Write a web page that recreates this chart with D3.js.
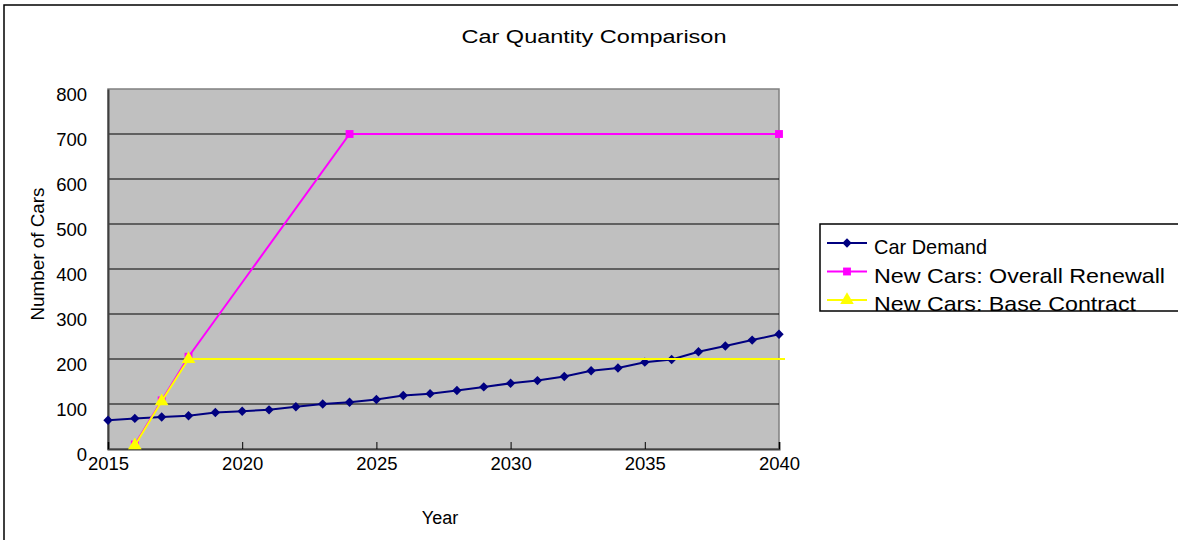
<!DOCTYPE html>
<html>
<head>
<meta charset="utf-8">
<script src="https://cdn.jsdelivr.net/npm/d3@7"></script>
<style>
  html, body { margin: 0; padding: 0; background: #fff; overflow: hidden; }
  svg { display: block; }
  text { font-family: "Liberation Sans", Arial, sans-serif; fill: #000; }
</style>
</head>
<body>
<svg id="chart" width="1178" height="540"></svg>
<script>
// ---- data ----
const demandYears = d3.range(2015, 2041);
const demandValues = [64, 68, 71, 74, 81, 84, 87, 94, 100, 104, 110, 119, 123, 130, 138, 146, 152, 161, 174, 180, 193, 199, 216, 229, 242, 255];
const renewalYears = [2016, 2017, 2018, 2024, 2040];
const renewalValues = [10, 108, 205, 700, 700];
const baseYears = [2016, 2017, 2018];
const baseValues = [8, 106, 200];
const yTicks = [0, 100, 200, 300, 400, 500, 600, 700, 800];
const xTicks = [2015, 2020, 2025, 2030, 2035, 2040];
const seriesNames = ["Car Demand", "New Cars: Overall Renewall", "New Cars: Base Contract"];
const titleText = "Car Quantity Comparison";
const xLabel = "Year";
const yLabel = "Number of Cars";

const svg = d3.select("#chart");
const W = 1178, H = 540;
const plot = { left: 108, right: 779, top: 89, bottom: 449 };

const x = d3.scaleLinear().domain([2015, 2040]).range([plot.left, plot.right]);
const y = d3.scaleLinear().domain([0, 800]).range([plot.bottom, plot.top]);

// outer chart border (left and top visible)
svg.append("rect").attr("x", 4).attr("y", 5).attr("width", W + 20).attr("height", H + 20)
  .attr("fill", "#fff").attr("stroke", "#000").attr("stroke-width", 1.5);

// title
svg.append("text").attr("x", 594).attr("y", 43).attr("text-anchor", "middle")
  .attr("font-size", 18).attr("textLength", 265).attr("lengthAdjust", "spacingAndGlyphs")
  .text(titleText);

// plot background
svg.append("rect").attr("x", plot.left).attr("y", plot.top)
  .attr("width", plot.right - plot.left).attr("height", plot.bottom - plot.top)
  .attr("fill", "#c0c0c0").attr("stroke", "#808080").attr("stroke-width", 1.5);

// gridlines
svg.append("g").selectAll("line").data(yTicks.filter(v => v > 0 && v < 800)).join("line")
  .attr("x1", plot.left).attr("x2", plot.right)
  .attr("y1", d => y(d)).attr("y2", d => y(d))
  .attr("stroke", "#000").attr("stroke-width", 1);

// y axis
const yAxis = d3.axisLeft(y).tickValues(yTicks).tickSize(0).tickPadding(21);
const gy = svg.append("g").attr("transform", `translate(${plot.left},0)`).call(yAxis);
gy.select(".domain").attr("stroke", "#404040").attr("stroke-width", 2);
gy.selectAll("text").attr("font-size", 18.5).attr("dy", "0.62em")
  .style("font-family", "'Liberation Sans', Arial, sans-serif").attr("fill", "#000");

// x axis (ticks pointing inward)
const xAxis = d3.axisBottom(x).tickValues(xTicks).tickFormat(d3.format("d")).tickSize(-7).tickPadding(8);
const gx = svg.append("g").attr("transform", `translate(0,${plot.bottom})`).call(xAxis);
gx.select(".domain").attr("stroke", "#404040").attr("stroke-width", 2);
gx.selectAll(".tick line").attr("stroke", "#000");
gx.selectAll("text").attr("font-size", 18.5)
  .style("font-family", "'Liberation Sans', Arial, sans-serif").attr("fill", "#000");

// axis labels
svg.append("text").attr("x", 440).attr("y", 524).attr("text-anchor", "middle")
  .attr("font-size", 18).text(xLabel);
svg.append("text").attr("transform", "translate(44,254) rotate(-90)").attr("text-anchor", "middle")
  .attr("font-size", 18).attr("textLength", 133).attr("lengthAdjust", "spacingAndGlyphs").text(yLabel);

// series
const demand = demandYears.map((yr, i) => ({ x: yr, v: demandValues[i] }));
const renewal = renewalYears.map((yr, i) => ({ x: yr, v: renewalValues[i] }));
const base = baseYears.map((yr, i) => ({ x: yr, v: baseValues[i] }));
const line = d3.line().x(d => x(d.x)).y(d => y(d.v));

const colors = ["#000080", "#ff00ff", "#ffff00"];
const symbols = [d3.symbolSquare, d3.symbolSquare, d3.symbolTriangle];
const symSizes = [44, 62, 80];
const symRot = [45, 0, 0];

function drawMarkers(data, idx) {
  svg.append("g").selectAll("path").data(data).join("path")
    .attr("transform", d => `translate(${x(d.x)},${y(d.v)}) rotate(${symRot[idx]})`)
    .attr("d", d3.symbol().type(symbols[idx]).size(symSizes[idx]))
    .attr("fill", colors[idx]);
}

// demand
svg.append("path").datum(demand).attr("d", line).attr("fill", "none")
  .attr("stroke", colors[0]).attr("stroke-width", 2);
drawMarkers(demand, 0);

// renewal
svg.append("path").datum(renewal).attr("d", line).attr("fill", "none")
  .attr("stroke", colors[1]).attr("stroke-width", 2);
drawMarkers(renewal, 1);

// base contract: level continues to the right edge
const baseLine = base.concat([{ x: x.invert(plot.right + 6), v: base[base.length - 1].v }]);
svg.append("path").datum(baseLine).attr("d", line).attr("fill", "none")
  .attr("stroke", colors[2]).attr("stroke-width", 2);
drawMarkers(base, 2);

// legend
const lg = svg.append("g");
lg.append("rect").attr("x", 820).attr("y", 224).attr("width", 400).attr("height", 87)
  .attr("fill", "#fff").attr("stroke", "#000").attr("stroke-width", 1.5);
const legendLens = [113, 291, 262];
seriesNames.forEach((name, i) => {
  const ly = 243 + i * 28.5;
  lg.append("line").attr("x1", 827).attr("x2", 867).attr("y1", ly).attr("y2", ly)
    .attr("stroke", colors[i]).attr("stroke-width", 2);
  lg.append("path").attr("transform", `translate(847,${ly}) rotate(${symRot[i]})`)
    .attr("d", d3.symbol().type(symbols[i]).size(symSizes[i])).attr("fill", colors[i]);
  lg.append("text").attr("x", 874).attr("y", ly + 11).attr("font-size", 21)
    .attr("textLength", legendLens[i]).attr("lengthAdjust", "spacingAndGlyphs").text(name);
});
// clip legend bottom so the last line is cut like the reference
lg.append("rect").attr("x", 819).attr("y", 312).attr("width", 400).attr("height", 10).attr("fill", "#fff");
</script>
</body>
</html>
